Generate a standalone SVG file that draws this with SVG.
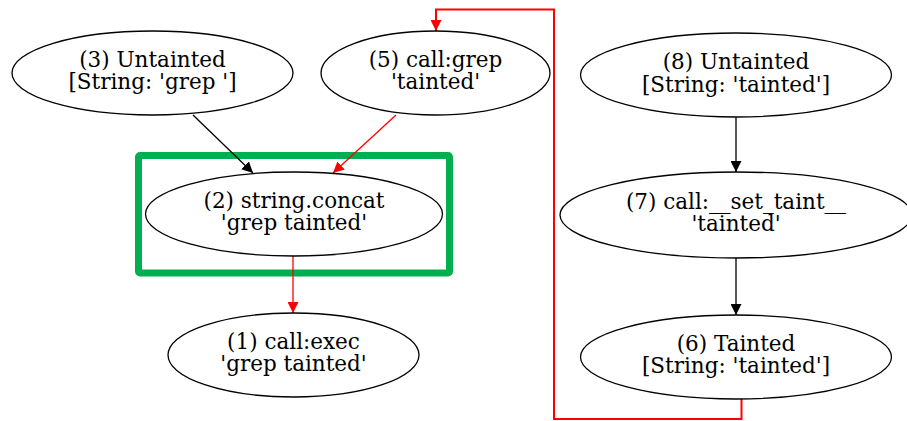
<svg xmlns="http://www.w3.org/2000/svg" width="907" height="421" viewBox="0 0 907 421">
  <style>
    .node ellipse { fill: #ffffff; stroke: #000000; stroke-width: 1.3; }
    .node text { font-family: "DejaVu Serif", "Liberation Serif", serif; font-size: 21.5px; text-anchor: middle; fill: #000000; }
    .edge { fill: none; stroke-width: 1.3; }
    .black { stroke: #000000; }
    .red { stroke: #ff0000; }
    .hl { fill: none; stroke: #00b050; stroke-width: 7; }
  </style>
  <defs>
    <marker id="arrow-black" viewBox="0 0 10 10" refX="10" refY="5" markerWidth="11" markerHeight="11" markerUnits="userSpaceOnUse" orient="auto">
      <path d="M0,0 L10,5 L0,10 z" fill="#000000"/>
    </marker>
    <marker id="arrow-red" viewBox="0 0 10 10" refX="10" refY="5" markerWidth="11" markerHeight="11" markerUnits="userSpaceOnUse" orient="auto">
      <path d="M0,0 L10,5 L0,10 z" fill="#ff0000"/>
    </marker>
  </defs>

  <rect width="907" height="421" fill="#ffffff"/>

  <!-- highlight frame around the concat node -->
  <rect class="hl" x="138.5" y="155.5" width="311" height="117.5" rx="1.5"/>

  <g id="edges">
    <path class="edge black" d="M193,115 L253,173" marker-end="url(#arrow-black)"/>
    <path class="edge red" d="M396,115 L333,173" marker-end="url(#arrow-red)"/>
    <path class="edge red" d="M293,256 L293,313" marker-end="url(#arrow-red)"/>
    <path class="edge black" d="M736,117 L736,172" marker-end="url(#arrow-black)"/>
    <path class="edge black" d="M736,258 L736,315" marker-end="url(#arrow-black)"/>
    <path class="edge red" style="stroke-width:2" d="M741.5,399 L741.5,419 L554,419 L554,9.5 L436,9.5 L436,31" marker-end="url(#arrow-red)"/>
  </g>

  <g id="n3" class="node">
    <ellipse cx="152.5" cy="73" rx="140.5" ry="42"/>
    <text x="152.5" y="67">(3) Untainted</text>
    <text x="152.5" y="89.3">[String: 'grep ']</text>
  </g>
  <g id="n5" class="node">
    <ellipse cx="435.5" cy="73" rx="114.5" ry="42"/>
    <text x="435.5" y="67">(5) call:grep</text>
    <text x="435.5" y="89.3">'tainted'</text>
  </g>
  <g id="n8" class="node">
    <ellipse cx="736" cy="75" rx="155.5" ry="42"/>
    <text x="736" y="69.3">(8) Untainted</text>
    <text x="736" y="91.6">[String: 'tainted']</text>
  </g>
  <g id="n2" class="node">
    <ellipse cx="294" cy="214" rx="148.5" ry="42"/>
    <text x="294" y="208">(2) string.concat</text>
    <text x="294" y="230.3">'grep tainted'</text>
  </g>
  <g id="n7" class="node">
    <ellipse cx="736" cy="215" rx="176" ry="43"/>
    <text x="736" y="209">(7) call:__set_taint__</text>
    <text x="736" y="231.3">'tainted'</text>
  </g>
  <g id="n1" class="node">
    <ellipse cx="293.5" cy="355" rx="125.5" ry="42"/>
    <text x="293.5" y="349.3">(1) call:exec</text>
    <text x="293.5" y="371.3">'grep tainted'</text>
  </g>
  <g id="n6" class="node">
    <ellipse cx="736" cy="357" rx="155.5" ry="42"/>
    <text x="736" y="351">(6) Tainted</text>
    <text x="736" y="373.3">[String: 'tainted']</text>
  </g>
</svg>
